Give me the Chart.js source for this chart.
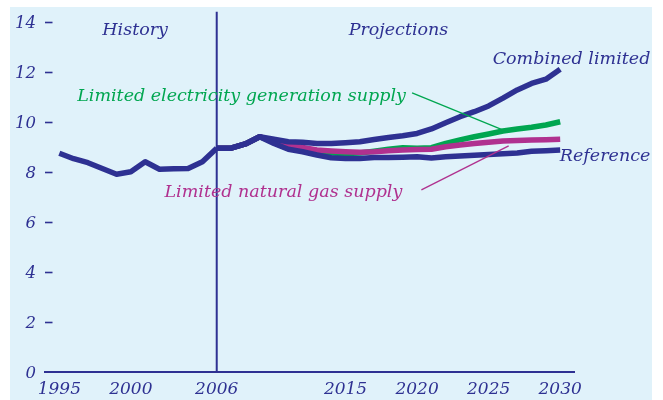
<!DOCTYPE html>
<html>
<head>
<meta charset="utf-8">
<script src="https://cdn.jsdelivr.net/npm/chart.js@4/dist/chart.umd.min.js"></script>
<style>
  html, body { margin: 0; padding: 0; background: #fff; }
  #panel { position: absolute; left: 10px; top: 7px; width: 642px; height: 393px; background: #e0f2fa; }
  canvas { display: block; }
</style>
</head>
<body>
<div id="panel"><canvas id="chart" width="642" height="393"></canvas></div>
<script>
const navy = '#2e3192';
const green = '#00a650';
const magenta = '#b0318f';
const serif = '"DejaVu Serif", serif';

// history, 1995-2006
const historyYears = [1995, 1996, 1997, 1998, 1999, 2000, 2001, 2002, 2003, 2004, 2005, 2006];
const historyValues = [8.74, 8.52, 8.36, 8.13, 7.90, 8.00, 8.40, 8.10, 8.12, 8.13, 8.40, 8.94];

// projections, 2006-2030
const projYears = [2006, 2007, 2008, 2009, 2010, 2011, 2012, 2013, 2014, 2015, 2016, 2017, 2018,
  2019, 2020, 2021, 2022, 2023, 2024, 2025, 2026, 2027, 2028, 2029, 2030];
const reference = [8.94, 8.94, 9.11, 9.40, 9.13, 8.90, 8.80, 8.67, 8.56, 8.53, 8.53, 8.57, 8.57,
  8.58, 8.60, 8.55, 8.60, 8.63, 8.66, 8.69, 8.72, 8.75, 8.82, 8.84, 8.87];
const combined = [8.94, 8.94, 9.11, 9.40, 9.30, 9.20, 9.18, 9.13, 9.13, 9.16, 9.20, 9.29, 9.37,
  9.44, 9.53, 9.71, 9.96, 10.20, 10.40, 10.63, 10.94, 11.27, 11.53, 11.70, 12.10];
const limitedGas = [8.94, 8.94, 9.11, 9.40, 9.20, 9.07, 8.97, 8.87, 8.83, 8.80, 8.78, 8.80, 8.84,
  8.87, 8.89, 8.90, 9.00, 9.07, 9.13, 9.18, 9.23, 9.25, 9.27, 9.28, 9.30];
const limitedElec = [8.94, 8.94, 9.11, 9.40, 9.18, 9.03, 8.92, 8.80, 8.75, 8.73, 8.75, 8.82, 8.90,
  8.96, 8.94, 8.96, 9.13, 9.27, 9.40, 9.51, 9.63, 9.71, 9.78, 9.87, 10.00];

const xTicks = [1995, 2000, 2006, 2015, 2020, 2025, 2030];
const yTicks = [0, 2, 4, 6, 8, 10, 12, 14];

function pts(xs, ys) {
  return xs.map((x, i) => ({ x, y: ys[i] }));
}

function lineSet(label, data, color) {
  return {
    label,
    data,
    borderColor: color,
    borderWidth: 5.5,
    pointRadius: 0,
    tension: 0,
    borderJoinStyle: 'round',
    fill: false
  };
}

// labels placed in data units (year, value)
const notes = [
  { text: 'History', x: 2000.3, y: 13.47, align: 'center', color: navy },
  { text: 'Projections', x: 2018.7, y: 13.47, align: 'center', color: navy },
  { text: 'Combined limited', x: 2036.3, y: 12.29, align: 'right', color: navy },
  { text: 'Reference', x: 2036.3, y: 8.43, align: 'right', color: navy },
  { text: 'Limited electricity generation supply', x: 1996.25, y: 10.83, align: 'left', color: green },
  { text: 'Limited natural gas supply', x: 2002.35, y: 6.99, align: 'left', color: magenta }
];
const leaders = [
  { from: [2019.65, 11.15], to: [2026.15, 9.63], color: green },
  { from: [2020.3, 7.27], to: [2026.4, 9.03], color: magenta }
];

const annotate = {
  id: 'annotate',
  afterDatasetsDraw(chart) {
    const { ctx, scales: { x, y } } = chart;
    ctx.save();
    // short tick dashes on the value axis
    ctx.strokeStyle = navy;
    ctx.lineWidth = 1.6;
    y.ticks.forEach(t => {
      if (t.value === 0) return;
      const py = Math.round(y.getPixelForValue(t.value)) + 0.5;
      ctx.beginPath();
      ctx.moveTo(x.left, py);
      ctx.lineTo(x.left + 7.5, py);
      ctx.stroke();
    });

    // history / projections divider
    ctx.lineWidth = 2;
    ctx.beginPath();
    ctx.moveTo(x.getPixelForValue(2006), y.getPixelForValue(14.4));
    ctx.lineTo(x.getPixelForValue(2006), y.getPixelForValue(0));
    ctx.stroke();

    leaders.forEach(l => {
      ctx.strokeStyle = l.color;
      ctx.lineWidth = 1.3;
      ctx.beginPath();
      ctx.moveTo(x.getPixelForValue(l.from[0]), y.getPixelForValue(l.from[1]));
      ctx.lineTo(x.getPixelForValue(l.to[0]), y.getPixelForValue(l.to[1]));
      ctx.stroke();
    });

    ctx.font = 'italic 17.5px ' + serif;
    ctx.textBaseline = 'alphabetic';
    notes.forEach(n => {
      ctx.fillStyle = n.color;
      ctx.textAlign = n.align;
      ctx.fillText(n.text, x.getPixelForValue(n.x), y.getPixelForValue(n.y));
    });
    ctx.restore();
  }
};

new Chart(document.getElementById('chart'), {
  type: 'line',
  data: {
    datasets: [
      lineSet('History', pts(historyYears, historyValues), navy),
      lineSet('Reference', pts(projYears, reference), navy),
      lineSet('Combined limited', pts(projYears, combined), navy),
      lineSet('Limited natural gas supply', pts(projYears, limitedGas), magenta),
      lineSet('Limited electricity generation supply', pts(projYears, limitedElec), green)
    ]
  },
  options: {
    responsive: false,
    animation: false,
    devicePixelRatio: 1,
    layout: { padding: { left: 0, right: 77.5, top: 14.7, bottom: 0 } },
    plugins: {
      legend: { display: false },
      tooltip: { enabled: false }
    },
    scales: {
      x: {
        type: 'linear',
        min: 1994,
        max: 2031,
        afterBuildTicks: s => { s.ticks = xTicks.map(v => ({ value: v })); },
        afterFit: s => { s.height = 28.3; s.paddingLeft = 0; s.paddingRight = 0; },
        grid: { display: false, drawTicks: false },
        border: { display: true, color: navy, width: 2 },
        ticks: {
          padding: 8,
          color: navy,
          maxRotation: 0,
          autoSkip: false,
          callback: v => String(v),
          font: { family: serif, style: 'italic', size: 17 }
        }
      },
      y: {
        min: 0,
        max: 14,
        afterBuildTicks: s => { s.ticks = yTicks.map(v => ({ value: v })); },
        afterFit: s => { s.width = 35; s.paddingTop = 0; s.paddingBottom = 0; },
        grid: { display: false, drawTicks: false },
        border: { display: false },
        ticks: {
          padding: 9,
          labelOffset: 2.5,
          color: navy,
          callback: v => String(v),
          font: { family: serif, style: 'italic', size: 16.5 }
        }
      }
    }
  },
  plugins: [annotate]
});
</script>
</body>
</html>
